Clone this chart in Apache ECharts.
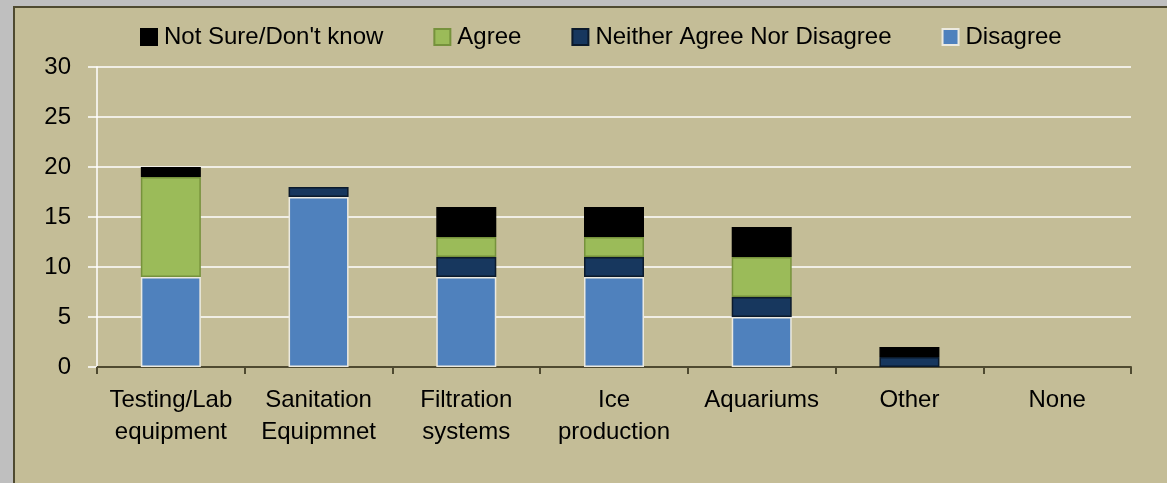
<!DOCTYPE html>
<html>
<head>
<meta charset="utf-8">
<script src="https://cdn.jsdelivr.net/npm/echarts@6/dist/echarts.min.js"></script>
<style>
  html, body { margin: 0; padding: 0; background: #BFBFBF; overflow: hidden; }
  #frame {
    position: absolute; left: 13px; top: 6px; width: 1200px; height: 520px;
    background: #C4BD97; border-left: 2px solid #4F4A30; border-top: 2px solid #4F4A30;
  }
  #chart { position: absolute; left: 0; top: 0; width: 1167px; height: 483px; }
</style>
</head>
<body>
<div id="frame"></div>
<div id="chart"></div>
<script>
// Equipment categories along the x axis
const categories = [
  'Testing/Lab\nequipment',
  'Sanitation\nEquipmnet',
  'Filtration\nsystems',
  'Ice\nproduction',
  'Aquariums',
  'Other',
  'None'
];

// Responses per category (stacked bottom to top)
const disagree = [9, 17, 9, 9, 5, 0, 0];
const neither  = [0, 1, 2, 2, 2, 1, 0];
const agree    = [10, 0, 2, 2, 4, 0, 0];
const notSure  = [1, 0, 3, 3, 3, 1, 0];

const yTicks = { min: 0, max: 30, interval: 5 };

const FONT = 'Liberation Sans';

// zero-height segments are left out so their borders don't draw lines
const seg = arr => arr.map(v => (v === 0 ? '-' : v));

function barSeries(name, data, color, border) {
  return {
    name: name,
    type: 'bar',
    stack: 'total',
    barWidth: 60,
    data: seg(data),
    itemStyle: { color: color, borderColor: border, borderWidth: 1.5 }
  };
}

const chart = echarts.init(document.getElementById('chart'), null, { renderer: 'canvas' });

chart.setOption({
  backgroundColor: 'transparent',
  animation: false,
  textStyle: { fontFamily: FONT },
  legend: {
    left: 140,
    top: 25,
    padding: 0,
    itemWidth: 16,
    itemHeight: 16,
    itemGap: 50,
    icon: 'rect',
    data: ["Not Sure/Don't know", 'Agree', 'Neither Agree Nor Disagree', 'Disagree'],
    textStyle: { fontFamily: FONT, fontSize: 24, color: '#000', lineHeight: 24, padding: [0, 0, 0, 2] }
  },
  grid: { left: 97, right: 36, top: 67, bottom: 116, containLabel: false },
  xAxis: {
    type: 'category',
    data: categories,
    axisLine: { show: true, lineStyle: { color: '#4F4A30', width: 2 } },
    axisTick: { show: true, length: 7, lineStyle: { color: '#4F4A30', width: 2 } },
    axisLabel: {
      interval: 0,
      margin: 17,
      color: '#000',
      fontFamily: FONT,
      fontSize: 24,
      lineHeight: 32,
      align: 'center'
    },
    splitLine: { show: false }
  },
  yAxis: {
    type: 'value',
    min: yTicks.min,
    max: yTicks.max,
    interval: yTicks.interval,
    axisLine: { show: true, lineStyle: { color: '#FFFFFF', width: 1.5 } },
    axisTick: { show: true, length: 9, lineStyle: { color: '#FFFFFF', width: 1.5 } },
    axisLabel: { margin: 26, color: '#000', fontFamily: FONT, fontSize: 24 },
    splitLine: { show: true, lineStyle: { color: '#FFFFFF', width: 1.5 } }
  },
  series: [
    barSeries('Disagree', disagree, '#4F81BD', '#ECEAE0'),
    barSeries('Neither Agree Nor Disagree', neither, '#17375E', '#0B1A2C'),
    barSeries('Agree', agree, '#9BBB59', '#76923C'),
    barSeries("Not Sure/Don't know", notSure, '#000000', '#000000')
  ]
});
</script>
</body>
</html>
